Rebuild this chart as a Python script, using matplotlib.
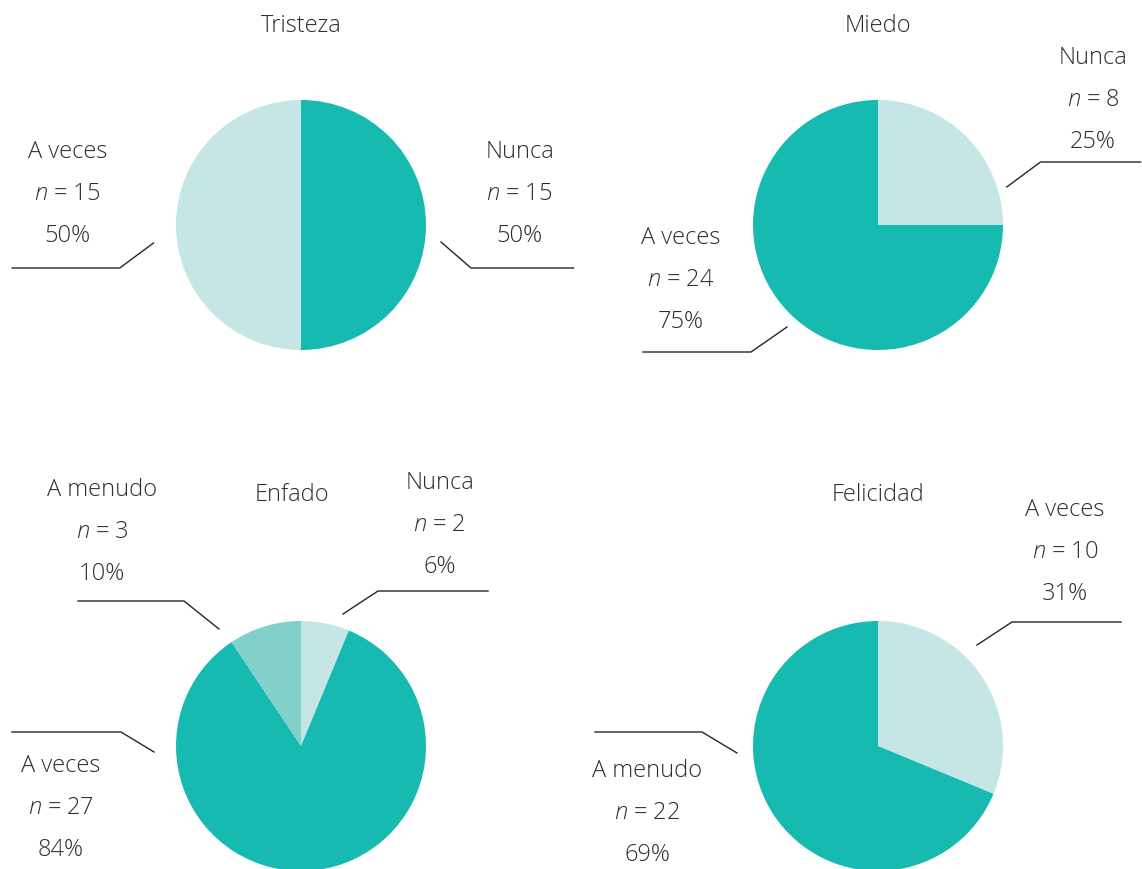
import matplotlib
matplotlib.use("Agg")
import matplotlib.pyplot as plt

plt.rcParams['font.family'] = ['Open Sans', 'DejaVu Sans']
plt.rcParams['font.weight'] = 'light'
plt.rcParams['mathtext.fontset'] = 'custom'
plt.rcParams['mathtext.it'] = 'Open Sans:italic:light'
plt.rcParams['mathtext.rm'] = 'Open Sans:light'

DARK = '#16BAB1'
LIGHT = '#C5E6E4'
MID = '#82D0CA'
TXT = '#2E2E2E'

# data, slices in clockwise order starting at 12 o'clock
titles = ['Tristeza', 'Miedo', 'Enfado', 'Felicidad']
tristeza_labels = ['Nunca', 'A veces']
tristeza_n = [15, 15]
tristeza_pct = ['50%', '50%']
miedo_labels = ['Nunca', 'A veces']
miedo_n = [8, 24]
miedo_pct = ['25%', '75%']
enfado_labels = ['Nunca', 'A veces', 'A menudo']
enfado_n = [2, 27, 3]
enfado_pct = ['6%', '84%', '10%']
felicidad_labels = ['A veces', 'A menudo']
felicidad_n = [10, 22]
felicidad_pct = ['31%', '69%']

W, H = 1142, 869
R = 125
fig = plt.figure(figsize=(W / 100, H / 100), dpi=100)
ax = fig.add_axes([0, 0, 1, 1])

# layout: centre (px, y from top), title offset, and per-slice label layout in radius units
# label: (text x, top line y, line y, line x0, line x1, tip x, tip y)
charts = [
    dict(c=(301, 225), title=(0, 1.59), colors=[DARK, LIGHT],
         labels=tristeza_labels, n=tristeza_n, pct=tristeza_pct,
         lay=[(1.75, 0.584, -0.344, 2.18, 1.36, 1.12, -0.136),
              (-1.87, 0.584, -0.344, -2.31, -1.45, -1.18, -0.144)]),
    dict(c=(878, 225), title=(0, 1.59), colors=[LIGHT, DARK],
         labels=miedo_labels, n=miedo_n, pct=miedo_pct,
         lay=[(1.72, 1.336, 0.504, 2.10, 1.30, 1.03, 0.304),
              (-1.576, -0.104, -1.016, -1.88, -1.016, -0.728, -0.816)]),
    dict(c=(301, 746), title=(-0.072, 2.008), colors=[LIGHT, DARK, MID],
         labels=enfado_labels, n=enfado_n, pct=enfado_pct,
         lay=[(1.11, 2.104, 1.24, 1.496, 0.616, 0.336, 1.056),
              (-1.92, -0.16, 0.112, -2.312, -1.44, -1.176, -0.048),
              (-1.59, 2.048, 1.16, -1.784, -0.936, -0.656, 0.936)]),
    dict(c=(878, 746), title=(0, 2.008), colors=[LIGHT, DARK],
         labels=felicidad_labels, n=felicidad_n, pct=felicidad_pct,
         lay=[(1.496, 1.888, 0.992, 1.944, 1.072, 0.792, 0.808),
              (-1.848, -0.2, 0.112, -2.264, -1.408, -1.128, -0.056)]),
]

for title, ch in zip(titles, charts):
    cx, cy = ch['c'][0], H - ch['c'][1]
    ax.pie(ch['n'], colors=ch['colors'], startangle=90, counterclock=False,
           center=(cx, cy), radius=R, frame=True,
           wedgeprops=dict(linewidth=0))
    ax.text(cx + ch['title'][0] * R, cy + ch['title'][1] * R, title,
            ha='center', va='center', fontsize=17, color=TXT)
    for lab, n, p, (tx, ty, ly, x0, x1, px, py) in zip(ch['labels'], ch['n'], ch['pct'], ch['lay']):
        for k, s in enumerate([lab, '$\\it{n}$ = %d' % n, p]):
            ax.text(cx + tx * R, cy + (ty - 0.336 * k) * R, s,
                    ha='center', va='center', fontsize=17, color=TXT)
        ax.plot([cx + x0 * R, cx + x1 * R, cx + px * R],
                [cy + ly * R, cy + ly * R, cy + py * R],
                color='#262626', lw=1)

ax.set_xlim(0, W)
ax.set_ylim(0, H)
ax.set_aspect('equal')
ax.axis('off')
fig.savefig('out.png', dpi=100)
